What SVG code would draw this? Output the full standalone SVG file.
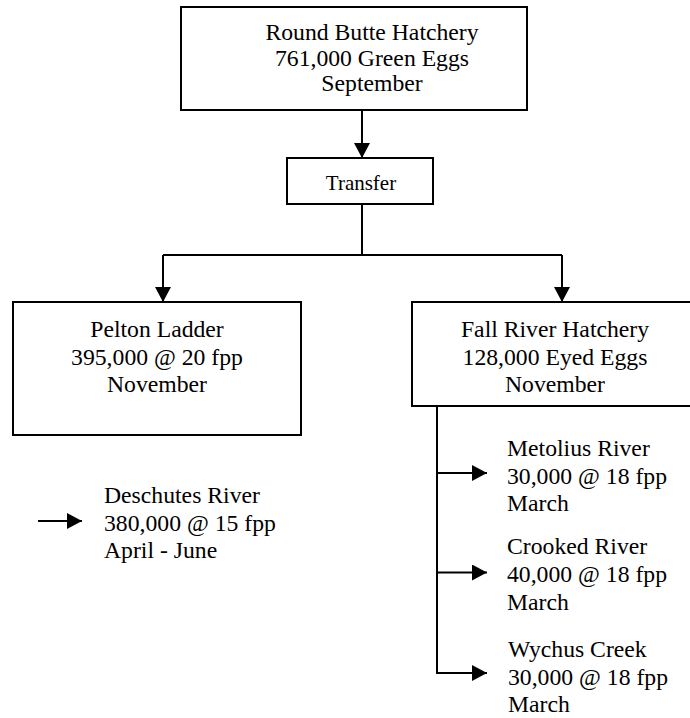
<svg xmlns="http://www.w3.org/2000/svg" width="690" height="718" viewBox="0 0 690 718">
  <defs>
    <marker id="ah" markerWidth="16" markerHeight="16" refX="15" refY="8" orient="auto" markerUnits="userSpaceOnUse">
      <path d="M0,0 L15,8 L0,16 z" fill="#000"/>
    </marker>
    <style>
      .box { fill: #fff; stroke: #000; stroke-width: 2; }
      .t { font-family: "Liberation Serif", "Times New Roman", serif; font-size: 23.7px; fill: #000; }
      .c { text-anchor: middle; }
      .s { font-size: 21px; }
      .ln { fill: none; stroke: #000; stroke-width: 2; }
      .ar { fill: none; stroke: #000; stroke-width: 2; marker-end: url(#ah); }
    </style>
  </defs>
  <rect width="690" height="718" fill="#fff"/>

  <g id="connectors">
    <path class="ar" d="M362,110 V158"/>
    <path class="ln" d="M362,204 V255"/>
    <path class="ln" d="M163,255 H562"/>
    <path class="ar" d="M163,255 V302"/>
    <path class="ar" d="M562,255 V302"/>
    <path class="ln" d="M437,406 V673"/>
    <path class="ar" d="M437,473 H487"/>
    <path class="ar" d="M437,572.5 H487"/>
    <path class="ar" d="M436,673 H487"/>
    <path class="ar" d="M38,521 H82"/>
  </g>

  <g id="round-butte">
    <rect class="box" x="181" y="7" width="346" height="103"/>
    <text class="t c" x="372" y="40">Round Butte Hatchery</text>
    <text class="t c" x="372" y="65.5">761,000 Green Eggs</text>
    <text class="t c" x="372" y="91">September</text>
  </g>

  <g id="transfer">
    <rect class="box" x="287" y="158" width="146" height="46"/>
    <text class="t s c" x="361" y="190">Transfer</text>
  </g>

  <g id="pelton">
    <rect class="box" x="13" y="302" width="288" height="133"/>
    <text class="t c" x="157" y="337">Pelton Ladder</text>
    <text class="t c" x="157" y="364.5">395,000 @ 20 fpp</text>
    <text class="t c" x="157" y="392">November</text>
  </g>

  <g id="fall-river">
    <rect class="box" x="412" y="302" width="290" height="104"/>
    <text class="t c" x="555" y="337">Fall River Hatchery</text>
    <text class="t c" x="555" y="364.5">128,000 Eyed Eggs</text>
    <text class="t c" x="555" y="392">November</text>
  </g>

  <g id="deschutes">
    <text class="t" x="104" y="503">Deschutes River</text>
    <text class="t" x="104" y="530.5">380,000 @ 15 fpp</text>
    <text class="t" x="104" y="558">April - June</text>
  </g>

  <g id="metolius">
    <text class="t" x="507" y="456">Metolius River</text>
    <text class="t" x="507" y="483.5">30,000 @ 18 fpp</text>
    <text class="t" x="507" y="511">March</text>
  </g>

  <g id="crooked">
    <text class="t" x="507" y="553.5">Crooked River</text>
    <text class="t" x="507" y="581.5">40,000 @ 18 fpp</text>
    <text class="t" x="507" y="609.5">March</text>
  </g>

  <g id="wychus">
    <text class="t" x="508" y="657">Wychus Creek</text>
    <text class="t" x="508" y="684.5">30,000 @ 18 fpp</text>
    <text class="t" x="508" y="712">March</text>
  </g>
</svg>
